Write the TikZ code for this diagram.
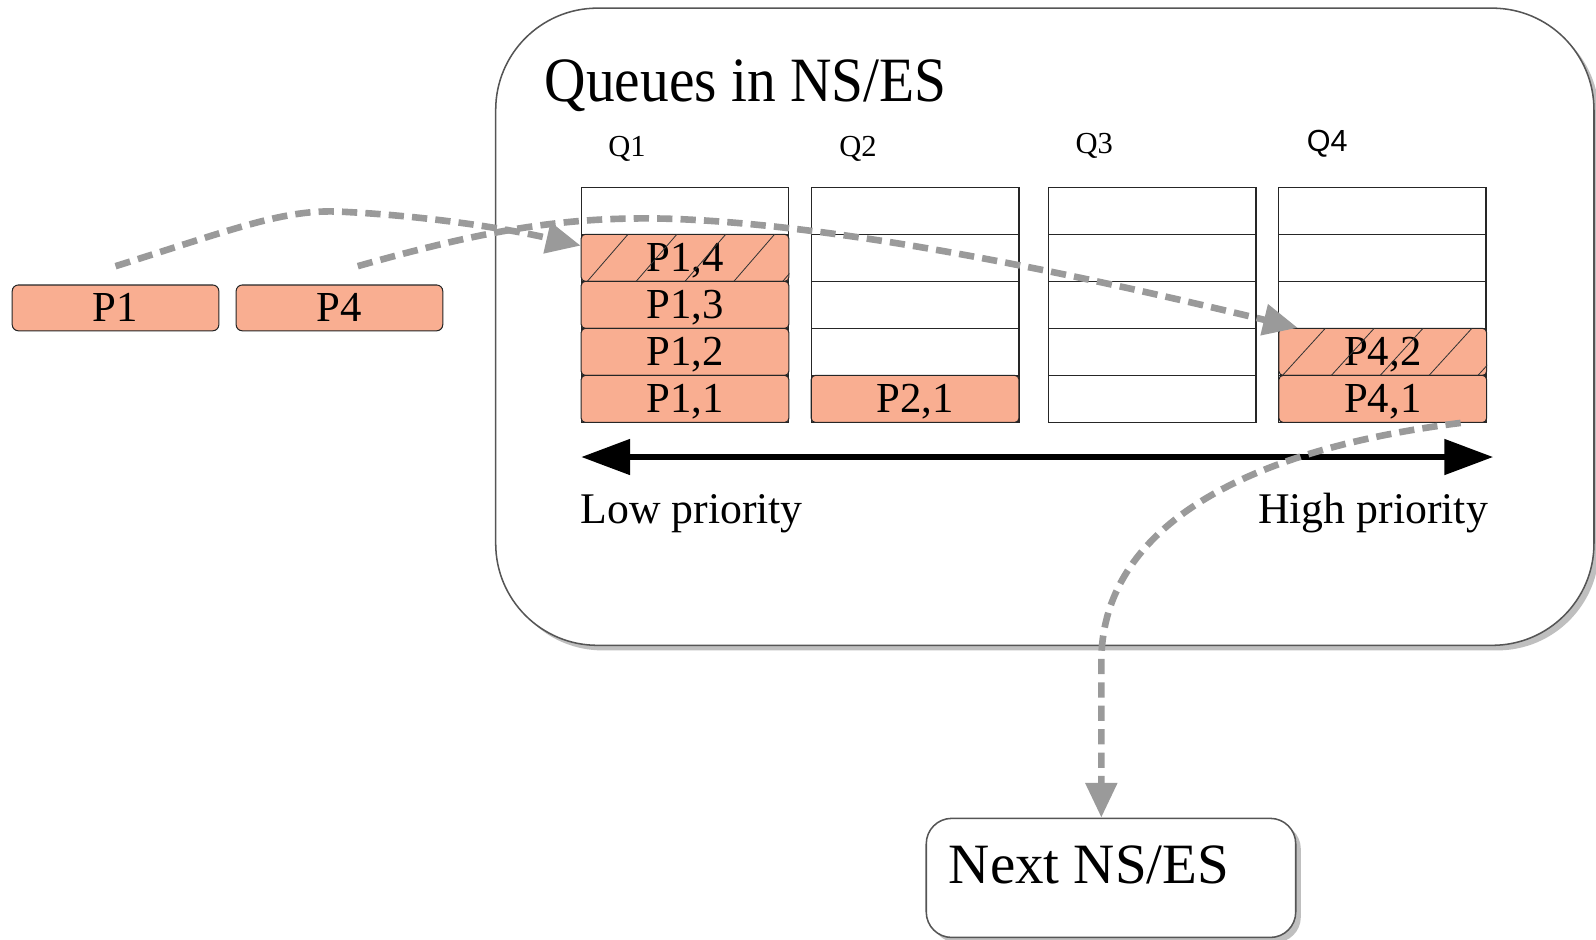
\documentclass[tikz,border=0pt]{standalone}
\usepackage{fontspec}
\setmainfont{Liberation Serif}
\newfontfamily\qsans{Liberation Sans}
\newfontfamily\condserif[FakeStretch=0.91]{Liberation Serif}
\usetikzlibrary{arrows.meta,shadows}
\definecolor{salmon}{HTML}{F9AE91}
\definecolor{dgray}{HTML}{9A9A9A}
\definecolor{frame}{HTML}{555555}
\begin{document}
\begin{tikzpicture}[x=1pt,y=-1pt,
  cell/.style={draw=black!85, line width=1pt, fill=salmon, rounded corners=4pt,
    minimum width=204pt, minimum height=46.2pt, inner sep=0pt,
    text height=27pt, text depth=0pt, font=\fontsize{42}{45}\selectfont},
  pbox/.style={cell, minimum width=203pt, minimum height=45pt, rounded corners=6pt},
  gridline/.style={draw=black!85, line width=1.2pt},
  hatch/.style={draw=black!80, line width=0.8pt},
  flow/.style={draw=dgray, line width=6.5pt, dash pattern=on 15pt off 8pt,
    -{Triangle[length=34pt,width=30pt]}},
  qlab/.style={anchor=base, inner sep=0pt, font=\fontsize{30}{34}\selectfont},
  bigtxt/.style={anchor=base west, inner sep=0pt, font=\fontsize{43}{46}\selectfont},
  box/.style={draw=frame, line width=1.5pt, fill=white,
    drop shadow={shadow xshift=5pt, shadow yshift=-5pt, fill=black!25, opacity=1}}
  ]
\useasboundingbox (0,0) rectangle (1568,923);

% big container
\node[box, rounded corners=100pt, minimum width=1079pt, minimum height=626pt, inner sep=0pt]
  (ns) at (1026.5,321) {};
\node[anchor=base west, inner sep=0pt, font=\condserif\fontsize{62}{66}\selectfont] (title) at (535,100) {Queues in NS/ES};

% queue labels
\node[qlab] (q1) at (616,154) {Q1};
\node[qlab] (q2) at (843,154) {Q2};
\node[qlab] (q3) at (1075,151) {Q3};
\node[qlab, font=\qsans\fontsize{30}{34}\selectfont] (q4) at (1304,149) {Q4};

% grid
\foreach \x in {571,797,1030,1256} {
  \draw[gridline] (\x,184) rectangle ++(204,231);
  \foreach \r in {1,...,4} \draw[gridline] (\x,184+\r*46.2) -- ++(204,0);
}

% filled cells
\node[cell] (p14) at (673,253.3) {P1,4};
\node[cell] (p13) at (673,299.5) {P1,3};
\node[cell] (p12) at (673,345.7) {P1,2};
\node[cell] (p11) at (673,391.9) {P1,1};
\node[cell] (p21) at (899,391.9) {P2,1};
\node[cell] (p42) at (1358.5,345.7) {P4,2};
\node[cell] (p41) at (1358.5,391.9) {P4,1};

% hatching
\begin{scope}
  \clip[rounded corners=4pt] (p14.south west) rectangle (p14.north east);
  \foreach \k in {0,...,5} \draw[hatch] (529+48*\k,276.4) -- ++(40,-46.2);
\end{scope}
\begin{scope}
  \clip[rounded corners=4pt] (p42.south west) rectangle (p42.north east);
  \foreach \k in {0,...,5} \draw[hatch] (1212+48*\k,368.8) -- ++(42,-46.2);
\end{scope}

% incoming packets
\node[pbox] (p1) at (113.5,302.5) {P1};
\node[pbox] (p4) at (333.5,302.5) {P4};

% priority axis
\coordinate (lowend) at (571,449);
\coordinate (highend) at (1467,449);
\draw[line width=6pt, {Triangle[length=48pt,width=34pt]}-{Triangle[length=48pt,width=34pt]}] (lowend) -- (highend);
\node[bigtxt] (low) at (570,514) {Low priority};
\node[bigtxt, anchor=base east] (high) at (1462,514) {High priority};

% next node
\node[box, rounded corners=25pt, minimum width=363pt, minimum height=117pt, inner sep=0pt]
  (next) at (1091.5,862.5) {};
\node[anchor=base west, inner sep=0pt, font=\fontsize{56}{60}\selectfont] (nexttext) at (932,868) {Next NS/ES};

% flows
\draw[flow] ([yshift=18pt]p1.north) .. controls (230,225) and (280,205) .. (335,208)
  .. controls (420,212) and (500,225) .. ([yshift=12pt]p14.west);
\draw[flow] ([xshift=18pt,yshift=18pt]p4.north) .. controls (480,225) and (560,212) .. (660,215)
  .. controls (850,222) and (1100,280) .. ([xshift=19pt]p42.north west);
\draw[flow] ([xshift=-26pt]p41.south east) .. controls (1200,445) and (1082,530) .. (1082,650)
  -- ([xshift=-9.5pt]next.north);
\end{tikzpicture}
\end{document}
